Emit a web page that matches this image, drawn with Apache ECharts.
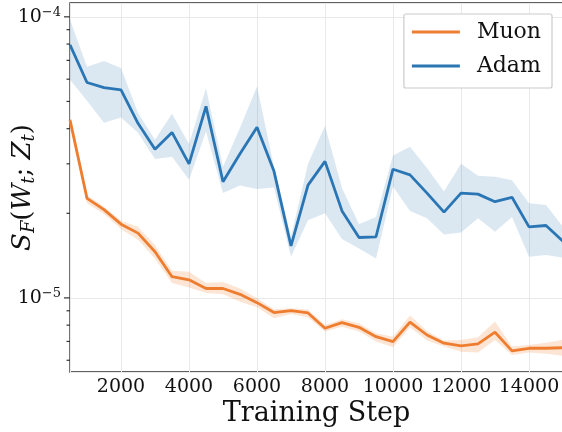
<!DOCTYPE html>
<html>
<head>
<meta charset="utf-8">
<script src="https://cdn.jsdelivr.net/npm/echarts@6/dist/echarts.min.js"></script>
<style>
  html, body { margin: 0; padding: 0; background: #fff; }
  #chart { width: 562px; height: 432px; }
</style>
</head>
<body>
<div id="chart"></div>
<script>
// ---- datos ----
const STEPS = [500, 1000, 1500, 2000, 2500, 3000, 3500, 4000, 4500, 5000,
               5500, 6000, 6500, 7000, 7500, 8000, 8500, 9000, 9500, 10000,
               10500, 11000, 11500, 12000, 12500, 13000, 13500, 14000, 14500, 15000];

const ADAM_MEAN  = [7.95e-5, 5.84e-5, 5.60e-5, 5.50e-5, 4.18e-5, 3.38e-5, 3.88e-5, 3.00e-5, 4.80e-5, 2.59e-5,
                    3.26e-5, 4.05e-5, 2.82e-5, 1.53e-5, 2.52e-5, 3.06e-5, 2.04e-5, 1.64e-5, 1.65e-5, 2.87e-5,
                    2.74e-5, 2.36e-5, 2.02e-5, 2.36e-5, 2.34e-5, 2.20e-5, 2.28e-5, 1.79e-5, 1.81e-5, 1.59e-5];
const ADAM_UPPER = [9.76e-5, 6.65e-5, 6.97e-5, 6.57e-5, 4.55e-5, 3.65e-5, 4.52e-5, 3.53e-5, 5.57e-5, 2.93e-5,
                    4.03e-5, 5.65e-5, 2.93e-5, 1.65e-5, 3.00e-5, 4.09e-5, 2.46e-5, 1.83e-5, 1.94e-5, 3.21e-5,
                    3.45e-5, 2.90e-5, 2.39e-5, 3.00e-5, 2.72e-5, 2.70e-5, 2.62e-5, 2.17e-5, 2.14e-5, 1.79e-5];
const ADAM_LOWER = [5.97e-5, 5.03e-5, 4.20e-5, 4.38e-5, 3.87e-5, 3.12e-5, 3.18e-5, 2.63e-5, 3.91e-5, 2.36e-5,
                    2.51e-5, 2.44e-5, 2.47e-5, 1.40e-5, 1.89e-5, 2.00e-5, 1.62e-5, 1.50e-5, 1.38e-5, 2.49e-5,
                    2.04e-5, 1.92e-5, 1.68e-5, 1.71e-5, 1.92e-5, 1.72e-5, 1.94e-5, 1.40e-5, 1.42e-5, 1.39e-5];

const MUON_MEAN  = [4.30e-5, 2.26e-5, 2.06e-5, 1.83e-5, 1.70e-5, 1.46e-5, 1.19e-5, 1.16e-5, 1.08e-5, 1.08e-5,
                    1.03e-5, 9.62e-6, 8.87e-6, 9.01e-6, 8.84e-6, 7.80e-6, 8.17e-6, 7.86e-6, 7.28e-6, 6.99e-6,
                    8.20e-6, 7.38e-6, 6.90e-6, 6.75e-6, 6.86e-6, 7.55e-6, 6.48e-6, 6.62e-6, 6.62e-6, 6.65e-6];
const MUON_UPPER = [4.37e-5, 2.33e-5, 2.11e-5, 1.88e-5, 1.79e-5, 1.54e-5, 1.25e-5, 1.24e-5, 1.13e-5, 1.14e-5,
                    1.08e-5, 9.98e-6, 9.12e-6, 9.19e-6, 9.10e-6, 8.01e-6, 8.40e-6, 8.13e-6, 7.49e-6, 7.28e-6,
                    8.65e-6, 7.63e-6, 7.05e-6, 7.09e-6, 7.25e-6, 8.24e-6, 6.71e-6, 6.80e-6, 6.93e-6, 7.09e-6];
const MUON_LOWER = [4.23e-5, 2.17e-5, 1.99e-5, 1.76e-5, 1.61e-5, 1.38e-5, 1.13e-5, 1.09e-5, 1.04e-5, 1.03e-5,
                    9.70e-6, 9.27e-6, 8.47e-6, 8.77e-6, 8.52e-6, 7.59e-6, 7.90e-6, 7.59e-6, 6.99e-6, 6.68e-6,
                    7.86e-6, 7.05e-6, 6.71e-6, 6.44e-6, 6.39e-6, 7.09e-6, 6.27e-6, 6.39e-6, 6.33e-6, 6.22e-6];

// ticks del eje y (log)
const Y_MAJOR = [1e-5, 1e-4];
const Y_MINOR = [6e-6, 7e-6, 8e-6, 9e-6, 2e-5, 3e-5, 4e-5, 5e-5, 6e-5, 7e-5, 8e-5, 9e-5];
const X_MIN = 500, X_MAX = 15000;
const Y_MIN = 5.45e-6, Y_MAX = 1.12e-4;

const FONT = "'DejaVu Serif', serif";
const C_MUON = '#ee7d2f';
const C_ADAM = '#2a76b4';

// ---- helpers ----
const pares = (ys) => STEPS.map((x, i) => [x, ys[i]]);

function banda(upper, lower, fill) {
    return {
        type: 'custom',
        coordinateSystem: 'cartesian2d',
        silent: true,
        z: 1,
        data: [[STEPS[0], upper[0]]],
        renderItem: (params, api) => {
            const pts = [];
            STEPS.forEach((x, i) => pts.push(api.coord([x, upper[i]])));
            for (let i = STEPS.length - 1; i >= 0; i--) pts.push(api.coord([STEPS[i], lower[i]]));
            return { type: 'polygon', shape: { points: pts }, style: { fill: fill } };
        }
    };
}

// marcas del eje y (mayores y menores, estilo matplotlib)
const ticksY = {
    type: 'custom',
    coordinateSystem: 'cartesian2d',
    silent: true,
    z: 5,
    clip: false,
    data: Y_MAJOR.map(v => [X_MIN, v, 1]).concat(Y_MINOR.map(v => [X_MIN, v, 0])),
    renderItem: (params, api) => {
        const p = api.coord([api.value(0), api.value(1)]);
        const len = api.value(2) ? 6 : 3.5;
        return {
            type: 'line',
            shape: { x1: p[0] - len, y1: p[1], x2: p[0], y2: p[1] },
            style: { stroke: '#333', lineWidth: 1.2 }
        };
    }
};

const esPotencia = (v) => Math.abs(Math.log10(v) - Math.round(Math.log10(v))) < 1e-6;

const chart = echarts.init(document.getElementById('chart'));
chart.setOption({
    animation: false,
    backgroundColor: '#fff',
    textStyle: { fontFamily: FONT },
    grid: {
        left: 70, right: -1, top: 3, bottom: 60,
        containLabel: false, outerBoundsMode: 'none',
        show: true, borderColor: '#2b2b2b', borderWidth: 1.3, backgroundColor: 'transparent'
    },
    legend: {
        data: ['Muon', 'Adam'],
        orient: 'vertical',
        right: 10, top: 14,
        icon: 'rect',
        itemWidth: 48, itemHeight: 3,
        itemGap: 12,
        padding: [7, 11, 11, 8],
        backgroundColor: '#fff',
        borderColor: '#cccccc', borderWidth: 1.2, borderRadius: 2,
        textStyle: { fontFamily: FONT, fontSize: 22, color: '#111', padding: [0, 0, 0, 12] }
    },
    xAxis: {
        type: 'value',
        min: X_MIN, max: X_MAX,
        splitNumber: 7,
        name: 'Training Step',
        nameLocation: 'middle',
        nameGap: 28,
        nameMoveOverlap: false,
        nameTextStyle: { fontFamily: FONT, fontSize: 27, color: '#111' },
        axisLine: { show: false },
        axisTick: { show: false },
        axisLabel: {
            fontFamily: FONT, fontSize: 19, color: '#111', margin: 6,
            showMinLabel: false, showMaxLabel: false,
            formatter: (v) => (v % 2000 === 0 ? String(v) : '')
        },
        splitLine: { show: true, lineStyle: { color: '#e9e9e9', width: 1 } }
    },
    yAxis: {
        type: 'log',
        logBase: 10,
        min: Y_MIN, max: Y_MAX,
        name: '{i|S}{sub|F}{n|(}{i|W}{sub|t}{n|; }{i|Z}{sub|t}{n|)}',
        nameLocation: 'middle',
        nameRotate: 90,
        nameGap: 32,
        nameMoveOverlap: false,
        nameTextStyle: {
            fontFamily: FONT, fontSize: 26, color: '#111',
            rich: {
                i: { fontFamily: FONT, fontSize: 26, fontStyle: 'italic', color: '#111' },
                n: { fontFamily: FONT, fontSize: 26, color: '#111' },
                sub: { fontFamily: FONT, fontSize: 18, fontStyle: 'italic', color: '#111', padding: [12, 0, 0, 0] }
            }
        },
        axisLine: { show: false },
        axisTick: { show: false },
        axisLabel: {
            margin: 9,
            formatter: (v) => (esPotencia(v) ? '{b|10}{s|\u2212' + Math.abs(Math.round(Math.log10(v))) + '}' : ''),
            rich: {
                b: { fontFamily: FONT, fontSize: 19, color: '#111' },
                s: { fontFamily: FONT, fontSize: 13, color: '#111', padding: [0, 0, 9, 0] }
            }
        },
        splitLine: { show: true, lineStyle: { color: '#e9e9e9', width: 1 } }
    },
    series: [
        banda(ADAM_UPPER, ADAM_LOWER, 'rgba(42,118,180,0.17)'),
        banda(MUON_UPPER, MUON_LOWER, 'rgba(238,125,47,0.2)'),
        {
            name: 'Muon', type: 'line', data: pares(MUON_MEAN),
            showSymbol: false, symbol: 'none', z: 3,
            color: C_MUON, lineStyle: { color: C_MUON, width: 2.8 }
        },
        {
            name: 'Adam', type: 'line', data: pares(ADAM_MEAN),
            showSymbol: false, symbol: 'none', z: 3,
            color: C_ADAM, lineStyle: { color: C_ADAM, width: 2.8 }
        },
        ticksY
    ]
});
</script>
</body>
</html>
